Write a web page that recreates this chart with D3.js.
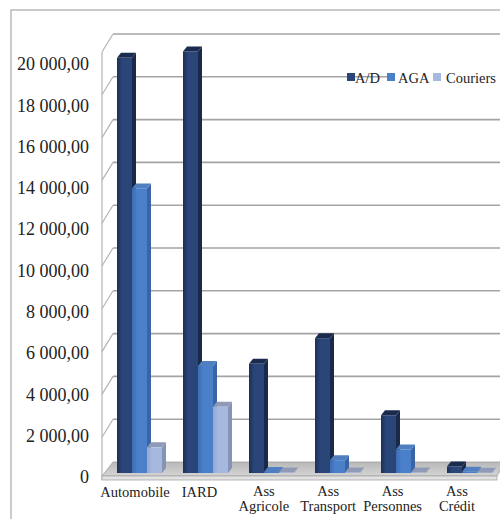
<!DOCTYPE html>
<html>
<head>
<meta charset="utf-8">
<script src="https://cdn.jsdelivr.net/npm/d3@7"></script>
<style>
  html, body { margin: 0; padding: 0; background: #fff; }
  svg { display: block; }
</style>
</head>
<body>
<svg id="chart" width="500" height="519"></svg>
<script>
// Branch figures by business line
const categories = ["Automobile", "IARD", "Ass Agricole", "Ass Transport", "Ass Personnes", "Ass Crédit"];
const seriesNames = ["A/D", "AGA", "Couriers"];
const valuesAD       = [19400, 19700, 5100, 6300, 2700, 300];
const valuesAGA      = [13300, 5000, 50, 600, 1100, 60];
const valuesCouriers = [1200, 3100, 20, 20, 20, 10];
const tickValues = [0, 2000, 4000, 6000, 8000, 10000, 12000, 14000, 16000, 18000, 20000];

const seriesValues = [valuesAD, valuesAGA, valuesCouriers];
const serifFont = '"Liberation Serif"';
const colors = {
  "A/D":      { front: "#2a4678", dark: "#1c3058", top: "#1b2b4e", side: "#19294a" },
  "AGA":      { front: "#4a7fca", dark: "#3d6db4", top: "#4f7fc0", side: "#3a64a4" },
  "Couriers": { front: "#a6b8de", dark: "#95a8d0", top: "#8e9ab6", side: "#8593b4" }
};

const svg = d3.select("#chart");
const defs = svg.append("defs");

// frame around the chart area
svg.append("rect").attr("x", 11).attr("y", 10).attr("width", 520).attr("height", 530)
  .attr("fill", "#fff").attr("stroke", "#a8a8a8").attr("stroke-width", 1.2);

// depth geometry of the pseudo-3D box
const wallFrontX = 102, wallBackX = 113, rightX = 505;
const yLabel = d3.scaleLinear().domain([0, 20000]).range([477, 64]);
const yBack  = d3.scaleLinear().domain([0, 20000]).range([462, 34]);
const yFront = d3.scaleLinear().domain([0, 20000]).range([480, 52]);
const yBar   = d3.scaleLinear().domain([0, 20000]).range([473, 45]);

const x = d3.scaleBand().domain(categories).range([103, 499]).padding(0);
const xs = d3.scaleBand().domain(seriesNames).range([14, 59]).padding(0);

// back wall gridlines
const grid = svg.append("g");
grid.selectAll("line.back").data(tickValues.filter(v => v > 0)).join("line")
  .attr("x1", wallBackX).attr("x2", rightX)
  .attr("y1", d => yBack(d)).attr("y2", d => yBack(d))
  .attr("stroke", "#a4a4a4").attr("stroke-width", 1.6);

// side wall: diagonals plus the front edge
grid.selectAll("line.side").data(tickValues.filter(v => v > 0)).join("line")
  .attr("x1", wallFrontX).attr("x2", wallBackX)
  .attr("y1", d => yFront(d)).attr("y2", d => yBack(d))
  .attr("stroke", "#b4b4b4").attr("stroke-width", 1.2);
grid.append("line")
  .attr("x1", wallFrontX).attr("x2", wallFrontX)
  .attr("y1", yFront(20000)).attr("y2", yFront(0))
  .attr("stroke", "#b4b4b4").attr("stroke-width", 1.2);

// floor
const floorGrad = defs.append("linearGradient").attr("id", "floorGrad")
  .attr("x1", 0).attr("y1", 0).attr("x2", 0).attr("y2", 1);
floorGrad.append("stop").attr("offset", "0%").attr("stop-color", "#b8b8b8");
floorGrad.append("stop").attr("offset", "100%").attr("stop-color", "#d4d4d4");
const floorTop = yBack(0), floorFront = 476;
svg.append("path")
  .attr("d", `M${wallFrontX},${floorFront} L${wallBackX},${floorTop} L${rightX},${floorTop} L${rightX - 8},${floorFront} Z`)
  .attr("fill", "url(#floorGrad)").attr("stroke", "#a0a0a0").attr("stroke-width", 0.8);
svg.append("rect").attr("x", wallFrontX).attr("y", floorFront).attr("width", rightX - 8 - wallFrontX).attr("height", 4)
  .attr("fill", "#e2e2e2").attr("stroke", "#a8a8a8").attr("stroke-width", 0.8);

// bars with front, side and top faces
const dx = 4, dy = -5;
const rows = [];
categories.forEach((c, i) => {
  seriesNames.forEach((s, j) => rows.push({ cat: c, series: s, value: seriesValues[j][i] }));
});

seriesNames.forEach(s => {
  const g = defs.append("linearGradient").attr("id", "grad-" + s.replace(/\W/g, ""))
    .attr("x1", 0).attr("y1", 0).attr("x2", 1).attr("y2", 0);
  g.append("stop").attr("offset", "0%").attr("stop-color", colors[s].dark);
  g.append("stop").attr("offset", "35%").attr("stop-color", colors[s].front);
  g.append("stop").attr("offset", "100%").attr("stop-color", colors[s].front);
});

const barW = xs.bandwidth();
const bars = svg.append("g").selectAll("g").data(rows).join("g");
bars.each(function(d) {
  const g = d3.select(this);
  const x0 = x(d.cat) + xs(d.series);
  const yt = yBar(d.value), yb = yBar(0);
  const c = colors[d.series];
  // right side face
  g.append("path")
    .attr("d", `M${x0 + barW},${yt} L${x0 + barW + dx},${yt + dy} L${x0 + barW + dx},${yb + dy} L${x0 + barW},${yb} Z`)
    .attr("fill", c.side);
  // top face
  g.append("path")
    .attr("d", `M${x0},${yt} L${x0 + dx},${yt + dy} L${x0 + barW + dx},${yt + dy} L${x0 + barW},${yt} Z`)
    .attr("fill", c.top);
  // front face
  g.append("rect").attr("x", x0).attr("y", yt).attr("width", barW).attr("height", yb - yt)
    .attr("fill", `url(#grad-${d.series.replace(/\W/g, "")})`);
});

// value axis labels
const frFormat = d3.formatLocale({ decimal: ",", thousands: "\u00a0", grouping: [3], currency: ["", ""] }).format(",.2f");
const axis = svg.append("g").attr("transform", "translate(89,0)")
  .call(d3.axisLeft(yLabel).tickValues(tickValues).tickSize(0).tickPadding(0)
    .tickFormat(v => v === 0 ? "0" : frFormat(v)));
axis.select(".domain").remove();
axis.selectAll("text")
  .style("font-family", serifFont).style("font-size", "18px").attr("fill", "#222");

// category labels
const catLabels = svg.append("g");
categories.forEach((c, i) => {
  const cx = x(c) + x.bandwidth() / 2 - 1 - 1.6 * i;
  const parts = c.startsWith("Ass ") ? ["Ass", c.slice(4)] : [c];
  const ys = parts.length === 1 ? [497] : [496, 511];
  parts.forEach((p, k) => {
    catLabels.append("text").attr("x", cx).attr("y", ys[k]).attr("text-anchor", "middle")
      .style("font-family", serifFont).style("font-size", "14.5px").attr("fill", "#222")
      .text(p);
  });
});

// legend
const legend = svg.append("g");
legend.append("rect").attr("x", 394).attr("y", 70).attr("width", 110).attr("height", 16).attr("fill", "#fff");
const legendItems = [
  { name: "A/D", sx: 347, tx: 355 },
  { name: "AGA", sx: 387, tx: 398 },
  { name: "Couriers", sx: 433, tx: 446 }
];
legendItems.forEach(it => {
  legend.append("rect").attr("x", it.sx).attr("y", 73).attr("width", 8).attr("height", 8)
    .attr("fill", colors[it.name].front);
  legend.append("text").attr("x", it.tx).attr("y", 83)
    .style("font-family", serifFont).style("font-size", "14.5px").attr("fill", "#222")
    .text(it.name);
});
</script>
</body>
</html>
